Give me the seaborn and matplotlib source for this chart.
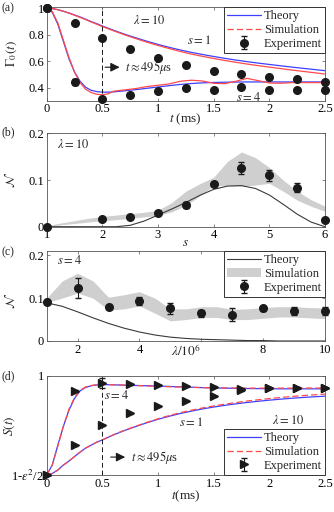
import matplotlib
matplotlib.use("Agg")
import matplotlib.pyplot as plt
import seaborn as sns
from matplotlib.lines import Line2D
from matplotlib.patches import Patch

sns.set_theme(style="ticks")
plt.rcParams.update({
    "font.family": ["Liberation Serif", "DejaVu Serif"],
    "mathtext.fontset": "stix",
    "font.size": 9,
    "axes.facecolor": "white",
})

BLUE = "#3f3fff"
RED = "#ff4a4a"
GRAY_BAND = "#cfcfcf"
THEORY_GRAY = "#3a3a3a"
FS = 9

# ---------------- data ----------------
# (a) Gamma_0(t), lambda = 10
t_curve = [0, 0.05, 0.1, 0.15, 0.2, 0.25, 0.3, 0.35, 0.4, 0.45, 0.5, 0.55, 0.6,
           0.7, 0.8, 0.9, 1.0, 1.1, 1.2, 1.3, 1.4, 1.5, 1.6, 1.7, 1.8, 1.9,
           2.0, 2.1, 2.2, 2.3, 2.4, 2.5]
a_theory_s1 = [1.0, 0.998, 0.99, 0.978, 0.965, 0.95, 0.935, 0.918, 0.90, 0.884, 0.867,
               0.851, 0.835, 0.805, 0.778, 0.752, 0.728, 0.706, 0.686, 0.668, 0.652,
               0.637, 0.623, 0.61, 0.598, 0.587, 0.577, 0.567, 0.557, 0.548, 0.539, 0.53]
a_sim_s1 = [1.0, 0.998, 0.99, 0.978, 0.964, 0.948, 0.932, 0.915, 0.897, 0.88, 0.863,
            0.847, 0.831, 0.80, 0.772, 0.745, 0.72, 0.697, 0.675, 0.655, 0.638,
            0.622, 0.607, 0.593, 0.580, 0.568, 0.557, 0.546, 0.535, 0.525, 0.515, 0.505]
a_theory_s4 = [1.0, 0.97, 0.88, 0.75, 0.62, 0.52, 0.45, 0.405, 0.382, 0.372, 0.368,
               0.368, 0.37, 0.378, 0.387, 0.397, 0.407, 0.417, 0.426, 0.433, 0.438,
               0.441, 0.443, 0.444, 0.445, 0.445, 0.445, 0.445, 0.445, 0.445, 0.445, 0.445]
a_sim_s4 = [1.0, 0.975, 0.89, 0.76, 0.63, 0.52, 0.44, 0.39, 0.365, 0.352, 0.348,
            0.355, 0.375, 0.385, 0.395, 0.41, 0.42, 0.43, 0.45, 0.458, 0.452,
            0.435, 0.432, 0.45, 0.472, 0.455, 0.437, 0.435, 0.44, 0.44, 0.44, 0.44]
t_exp = [0, 0.25, 0.5, 0.75, 1.0, 1.25, 1.5, 1.75, 2.0, 2.25, 2.5]
a_exp_s1 = [1.0, 0.89, 0.78, 0.69, 0.627, 0.576, 0.53, 0.504, 0.484, 0.467, 0.447]
a_err_s1 = [0.005] * 11
a_exp_s4 = [1.0, 0.444, 0.32, 0.343, 0.373, 0.402, 0.385, 0.41, 0.385, 0.385, 0.385]
a_err_s4 = [0.005, 0.02, 0.005, 0.005, 0.005, 0.005, 0.005, 0.005, 0.005, 0.005, 0.005]

# (b) N vs s, lambda = 10
s_curve = [1, 1.25, 1.5, 1.75, 2, 2.25, 2.5, 2.75, 3, 3.25, 3.5, 3.75, 4, 4.25,
           4.5, 4.75, 5, 5.25, 5.5, 5.75, 6]
b_theory = [0, 0, 0, 0, 0, 0, 0.003, 0.012, 0.025, 0.038, 0.052, 0.067, 0.08, 0.087,
            0.088, 0.082, 0.068, 0.048, 0.027, 0.01, 0]
b_sim_low = [0, 0.004, 0.007, 0.01, 0.013, 0.015, 0.018, 0.021, 0.024, 0.032, 0.045,
             0.066, 0.088, 0.088, 0.087, 0.089, 0.093, 0.076, 0.057, 0.044, 0.033]
b_sim_high = [0.002, 0.008, 0.013, 0.018, 0.022, 0.025, 0.028, 0.031, 0.035, 0.052,
              0.076, 0.092, 0.106, 0.14, 0.16, 0.148, 0.127, 0.1, 0.076, 0.058, 0.044]
s_exp = [1, 2, 2.5, 3, 3.5, 4, 4.5, 5, 5.5, 6]
b_exp = [0.0, 0.0165, 0.0214, 0.0286, 0.0465, 0.0914, 0.126, 0.11, 0.0836, 0.0143]
b_err = [0.002, 0.003, 0.003, 0.003, 0.007, 0.004, 0.013, 0.012, 0.01, 0.003]

# (c) N vs lambda, s = 4
lam_curve = [1, 1.5, 2, 2.5, 3, 3.5, 4, 4.5, 5, 5.5, 6, 6.5, 7, 7.5, 8, 8.5, 9, 9.5, 10]
c_theory = [0.089, 0.081, 0.068, 0.054, 0.041, 0.03, 0.021, 0.014, 0.009, 0.006,
            0.004, 0.003, 0.002, 0.001, 0.001, 0.0, 0.0, 0.0, 0.0]
c_sim_low = [0.09, 0.1, 0.112, 0.1, 0.072, 0.075, 0.082, 0.065, 0.047, 0.05, 0.055,
             0.055, 0.05, 0.05, 0.053, 0.056, 0.056, 0.054, 0.052]
c_sim_high = [0.1, 0.14, 0.158, 0.14, 0.102, 0.108, 0.115, 0.1, 0.075, 0.075, 0.08,
              0.08, 0.074, 0.075, 0.078, 0.08, 0.08, 0.078, 0.077]
lam_exp = [1, 2, 3, 4, 5, 6, 7, 8, 9, 10]
c_exp = [0.09, 0.124, 0.08, 0.093, 0.076, 0.065, 0.061, 0.076, 0.07, 0.07]
c_err = [0.003, 0.024, 0.005, 0.01, 0.012, 0.008, 0.015, 0.005, 0.01, 0.01]

# (d) S(t), lambda = 10 (0 = 1-eps^2/2, 1 = 1)
d_theory_s4 = [0, 0.1, 0.3, 0.49, 0.65, 0.77, 0.845, 0.88, 0.897, 0.905, 0.908, 0.908,
               0.906, 0.903, 0.9, 0.897, 0.894, 0.89, 0.886, 0.882, 0.878, 0.875,
               0.873, 0.871, 0.869, 0.868, 0.867, 0.866, 0.866, 0.866, 0.866, 0.866]
d_sim_s4 = [0, 0.1, 0.29, 0.49, 0.66, 0.78, 0.85, 0.885, 0.9, 0.907, 0.91, 0.909,
            0.907, 0.903, 0.899, 0.895, 0.891, 0.887, 0.884, 0.881, 0.878, 0.876,
            0.875, 0.874, 0.873, 0.873, 0.873, 0.873, 0.873, 0.874, 0.874, 0.874]
d_theory_s1 = [0, 0.015, 0.05, 0.1, 0.14, 0.185, 0.23, 0.27, 0.3, 0.33, 0.352, 0.378,
               0.403, 0.447, 0.487, 0.525, 0.56, 0.59, 0.618, 0.642, 0.664, 0.683,
               0.7, 0.715, 0.729, 0.741, 0.752, 0.762, 0.771, 0.779, 0.786, 0.792]
d_sim_s1 = [0, 0.015, 0.05, 0.1, 0.14, 0.185, 0.23, 0.27, 0.3, 0.331, 0.353, 0.379,
            0.405, 0.45, 0.49, 0.529, 0.565, 0.597, 0.626, 0.651, 0.674, 0.694,
            0.712, 0.728, 0.743, 0.756, 0.768, 0.779, 0.789, 0.798, 0.806, 0.813]
d_exp_s4 = [0, 0.84, 0.925, 0.91, 0.9, 0.89, 0.885, 0.86, 0.875, 0.875, 0.875]
d_err_s4 = [0.005, 0.01, 0.05, 0.005, 0.005, 0.005, 0.005, 0.005, 0.005, 0.005, 0.005]
d_exp_s1 = [0, 0.30, 0.50, 0.62, 0.69, 0.745, 0.79, 0.85, 0.87, 0.875, 0.875]
d_err_s1 = [0.005] * 11


# ---------------- drawing ----------------
fig = plt.figure(figsize=(3.34, 5.12), dpi=100)
L, W = 0.1398, 0.833


def style(ax):
    for sp in ax.spines.values():
        sp.set_color("#555555")
        sp.set_linewidth(0.6)
    ax.tick_params(direction="in", top=True, right=True, length=2.5, width=0.5,
                   color="#555555", labelsize=FS, pad=2, labelcolor="black")
    ax.grid(False)


def line(ax, x, y, color, lw=0.9, ls="-"):
    sns.lineplot(x=x, y=y, ax=ax, color=color, lw=lw, linestyle=ls,
                 estimator=None, sort=False, legend=False)


def legend(ax, handles, loc):
    leg = ax.legend(handles, ["Theory", "Simulation", "Experiment"], loc=loc,
                    fontsize=FS, handlelength=2.7, handletextpad=0.25,
                    borderaxespad=0, borderpad=0.25, labelspacing=0.15,
                    fancybox=False, framealpha=1)
    leg.get_frame().set_edgecolor("#333333")
    leg.get_frame().set_linewidth(0.7)
    return leg


# ---- (a)
axA = fig.add_axes([L, 0.8037, W, 0.1826])
style(axA)
line(axA, t_curve, a_theory_s1, BLUE)
line(axA, t_curve, a_sim_s1, RED)
line(axA, t_curve, a_theory_s4, BLUE)
line(axA, t_curve, a_sim_s4, RED)
axA.axvline(0.495, color="k", lw=0.7, ls=(0, (5, 3)))
ebA = axA.errorbar(t_exp, a_exp_s1, yerr=a_err_s1, fmt="o", color="k", ms=5.5,
                   capsize=2, elinewidth=0.8, clip_on=False, zorder=5)
axA.errorbar(t_exp, a_exp_s4, yerr=a_err_s4, fmt="o", color="k", ms=5.5,
             capsize=2, elinewidth=0.8, clip_on=False, zorder=5)
axA.set_xlim(0, 2.5)
axA.set_ylim(0.305, 1.01)
axA.set_xticks([0, 0.5, 1, 1.5, 2, 2.5])
axA.set_xticklabels(["0", "0.5", "1", "1.5", "2", "2.5"])
axA.set_yticks([0.4, 0.6, 0.8, 1])
axA.set_yticklabels(["0.4", "0.6", "0.8", "1"])
axA.set_xlabel(r"$t$ (ms)", fontsize=FS + 0.5)
axA.xaxis.set_label_coords(0.5, -0.12)
axA.set_ylabel(r"$\Gamma_0(t)$", fontsize=FS + 0.5)
axA.yaxis.set_label_coords(-0.1, 0.5)
axA.text(0.92, 0.91, r"$\lambda=10$", ha="center", va="center", fontsize=FS)
axA.text(1.37, 0.756, r"$s=1$", ha="center", va="center", fontsize=FS)
axA.text(1.81, 0.33, r"$s=4$", ha="center", va="center", fontsize=FS)
axA.annotate("", xy=(0.68, 0.556), xytext=(0.5, 0.556),
             arrowprops=dict(arrowstyle="-|>,head_length=0.6,head_width=0.3",
                             color="k", lw=0.8))
axA.text(0.70, 0.556, r"$t\approx495\mu$s", ha="left", va="center", fontsize=FS)
legend(axA, [Line2D([], [], color=BLUE, lw=0.9),
             Line2D([], [], color=RED, lw=0.9, ls=(0, (5, 2.5))), ebA],
       "upper right")

# ---- (b)
axB = fig.add_axes([L, 0.5572, W, 0.1824])
style(axB)
axB.fill_between(s_curve, b_sim_low, b_sim_high, color=GRAY_BAND, lw=0)
line(axB, s_curve, b_theory, THEORY_GRAY, lw=0.8)
axB.errorbar(s_exp, b_exp, yerr=b_err, fmt="o", color="k", ms=5.5, capsize=2,
             elinewidth=0.8, clip_on=False, zorder=5)
axB.set_xlim(1, 6)
axB.set_ylim(0, 0.2)
axB.set_xticks([1, 2, 3, 4, 5, 6])
axB.set_yticks([0, 0.1, 0.2])
axB.set_yticklabels(["0", "0.1", "0.2"])
axB.set_xlabel(r"$s$", fontsize=FS + 0.5)
axB.xaxis.set_label_coords(0.5, -0.11)
axB.set_ylabel(r"$\mathcal{N}$", fontsize=FS + 0.5)
axB.yaxis.set_label_coords(-0.105, 0.5)
axB.text(0.037, 0.885, r"$\lambda=10$", transform=axB.transAxes, ha="left",
         va="center", fontsize=FS)

# ---- (c)
axC = fig.add_axes([L, 0.334, W, 0.1758])
style(axC)
axC.fill_between(lam_curve, c_sim_low, c_sim_high, color=GRAY_BAND, lw=0)
line(axC, lam_curve, c_theory, THEORY_GRAY, lw=0.8)
ebC = axC.errorbar(lam_exp, c_exp, yerr=c_err, fmt="o", color="k", ms=5.5,
                   capsize=2, elinewidth=0.8, clip_on=False, zorder=5)
axC.set_xlim(1, 10)
axC.set_ylim(0, 0.21)
axC.set_xticks([2, 4, 6, 8, 10])
axC.set_xticklabels(["2", "4", "", "8", "10"])
axC.set_yticks([0, 0.1, 0.2])
axC.set_yticklabels(["0", "0.1", "0.2"])
axC.set_xlabel(r"$\lambda/10^6$", fontsize=FS + 0.5)
axC.xaxis.set_label_coords(0.5, -0.02)
axC.set_ylabel(r"$\mathcal{N}$", fontsize=FS + 0.5)
axC.yaxis.set_label_coords(-0.105, 0.45)
axC.text(0.037, 0.89, r"$s=4$", transform=axC.transAxes, ha="left",
         va="center", fontsize=FS)
legend(axC, [Line2D([], [], color=THEORY_GRAY, lw=0.8),
             Patch(facecolor=GRAY_BAND, edgecolor="none"), ebC], "upper right")

# ---- (d)
axD = fig.add_axes([L, 0.0723, W, 0.1943])
style(axD)
line(axD, t_curve, d_theory_s4, BLUE)
line(axD, t_curve, d_sim_s4, RED, ls=(0, (5, 2.5)))
line(axD, t_curve, d_theory_s1, BLUE)
line(axD, t_curve, d_sim_s1, RED, ls=(0, (5, 2.5)))
axD.axvline(0.495, color="k", lw=0.7, ls=(0, (5, 3)))
ebD = axD.errorbar(t_exp, d_exp_s4, yerr=d_err_s4, fmt=">", color="k", ms=6,
                   capsize=2, elinewidth=0.8, clip_on=False, zorder=5)
axD.errorbar(t_exp, d_exp_s1, yerr=d_err_s1, fmt=">", color="k", ms=6,
             capsize=2, elinewidth=0.8, clip_on=False, zorder=5)
axD.set_xlim(0, 2.5)
axD.set_ylim(0, 1)
axD.set_xticks([0, 0.5, 1, 1.5, 2, 2.5])
axD.set_xticklabels(["0", "0.5", "1", "1.5", "2", "2.5"])
axD.set_yticks([0, 1])
axD.set_yticklabels([r"1-$\epsilon^2$/2", "1"])
axD.set_xlabel(r"$t$(ms)", fontsize=FS + 0.5)
axD.xaxis.set_label_coords(0.5, -0.14)
axD.set_ylabel(r"$S(t)$", fontsize=FS + 0.5)
axD.yaxis.set_label_coords(-0.105, 0.5)
axD.text(0.63, 0.8, r"$s=4$", ha="center", va="center", fontsize=FS)
axD.text(1.3, 0.53, r"$s=1$", ha="center", va="center", fontsize=FS)
axD.text(2.17, 0.55, r"$\lambda=10$", ha="center", va="center", fontsize=FS)
axD.annotate("", xy=(0.73, 0.18), xytext=(0.55, 0.18),
             arrowprops=dict(arrowstyle="-|>,head_length=0.6,head_width=0.3",
                             color="k", lw=0.8))
axD.text(0.76, 0.18, r"$t\approx495\mu$s", ha="left", va="center", fontsize=FS)
legend(axD, [Line2D([], [], color=BLUE, lw=0.9),
             Line2D([], [], color=RED, lw=0.9, ls=(0, (5, 2.5))), ebD],
       "lower right")

# panel labels
for lab, ypix in [("(a)", 8), ("(b)", 132), ("(c)", 252), ("(d)", 376)]:
    fig.text(2 / 334, 1 - ypix / 512, lab, ha="left", va="center", fontsize=FS - 0.5)

fig.savefig("out.png", dpi=100)
